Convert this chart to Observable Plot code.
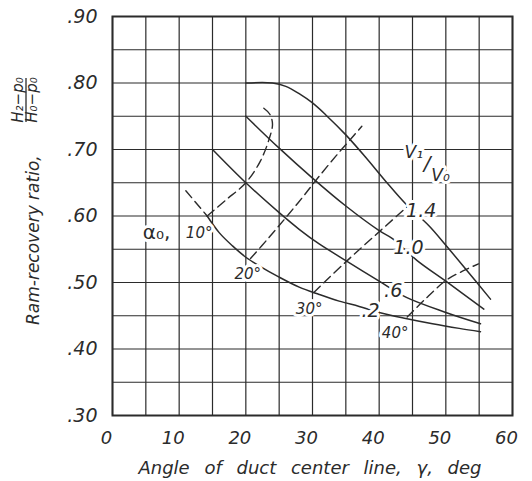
<!DOCTYPE html>
<html>
<head>
<meta charset="utf-8">
<script src="https://cdn.jsdelivr.net/npm/d3@7"></script>
<script src="https://cdn.jsdelivr.net/npm/@observablehq/plot@0.6"></script>
<style>
  html, body { margin: 0; padding: 0; background: #fff; }
  #chart { width: 532px; height: 481px; }
</style>
</head>
<body>
<div id="chart"></div>
<script>
// ---- tick labels / grid ----
const xTicks = [0, 10, 20, 30, 40, 50, 60];
const yTicks = [0.30, 0.40, 0.50, 0.60, 0.70, 0.80, 0.90];
const xGrid = [0, 5, 10, 15, 20, 25, 30, 35, 40, 45, 50, 55, 60];
const yGrid = [0.30, 0.35, 0.40, 0.45, 0.50, 0.55, 0.60, 0.65, 0.70, 0.75, 0.80, 0.85, 0.90];

// ---- solid curves: V1/V0 ----
const v14X = [20, 24, 26, 28, 30, 32, 35, 38, 41, 44, 47.5, 50, 53, 56.7];
const v14Y = [0.800, 0.800, 0.795, 0.784, 0.770, 0.752, 0.722, 0.688, 0.652, 0.618, 0.585, 0.556, 0.520, 0.475];
const v10X = [20, 25, 30, 35, 40, 42, 45.7, 50, 55.7];
const v10Y = [0.750, 0.702, 0.657, 0.615, 0.578, 0.566, 0.533, 0.502, 0.460];
const v06X = [15, 20, 25, 28, 31, 35, 40, 44, 50, 55.2];
const v06Y = [0.700, 0.650, 0.605, 0.580, 0.558, 0.533, 0.502, 0.478, 0.455, 0.438];
const v02X = [14.2, 16, 18, 20, 22, 25, 28, 31, 34, 37, 40, 44, 48, 52, 55.2];
const v02Y = [0.600, 0.575, 0.555, 0.538, 0.525, 0.508, 0.493, 0.482, 0.472, 0.464, 0.455, 0.446, 0.438, 0.431, 0.426];

// ---- dashed curves: alpha0 ----
const a10aX = [11, 14.2];
const a10aY = [0.638, 0.600];
const a10bX = [14.2, 17, 20, 22.2, 23.5, 24, 23.6, 22.7];
const a10bY = [0.600, 0.624, 0.650, 0.683, 0.716, 0.738, 0.753, 0.762];
const a20X = [20.7, 23.5, 26.2, 28.5, 30.7, 33.5, 36.2, 37.4];
const a20Y = [0.536, 0.568, 0.600, 0.628, 0.656, 0.690, 0.721, 0.735];
const a30X = [30.2, 35, 40.2, 45.2];
const a30Y = [0.485, 0.531, 0.578, 0.623];
const a40X = [44.2, 46.7, 50, 52.5, 54.9];
const a40Y = [0.448, 0.473, 0.503, 0.517, 0.528];

// ---- in-plot labels ----
const bigLabels = [".2", ".6", "1.0", "1.4"];
const bigLabelX = [38.7, 42.1, 44.4, 46.3];
const bigLabelY = [0.457, 0.487, 0.552, 0.608];
const degLabels = ["10°", "20°", "30°", "40°"];
const degLabelX = [13.0, 20.3, 29.5, 42.4];
const degLabelY = [0.574, 0.513, 0.460, 0.424];
const alphaLabel = ["α₀,"];
const alphaLabelX = [6.6];
const alphaLabelY = [0.575];
const velLabels = ["V₁", "/", "V₀"];
const velLabelX = [45.2, 47.2, 49.2];
const velLabelY = [0.6955, 0.679, 0.661];
const velLabelSize = [17, 20, 17];

const xTitle = "Angle of duct center line, γ, deg";
const yTitle = "Ram-recovery ratio,";
const yFracNum = "H₂−p₀";
const yFracDen = "H₀−p₀";

const pts = (xs, ys) => xs.map((x, i) => ({x, y: ys[i]}));
const ink = "#2b2b2b";
const font = "DejaVu Sans";

const solid = {x: "x", y: "y", stroke: ink, strokeWidth: 1.5, curve: "catmull-rom"};
const dashed = {x: "x", y: "y", stroke: ink, strokeWidth: 1.4, strokeDasharray: "9,5", curve: "catmull-rom"};

const halo = {stroke: "white", strokeWidth: 6, fill: ink, fontStyle: "italic"};

const plot = Plot.plot({
  width: 532,
  height: 481,
  marginLeft: 112,
  marginRight: 20,
  marginTop: 16,
  marginBottom: 66,
  style: {fontFamily: font, background: "white", color: ink},
  x: {domain: [0, 60], axis: null},
  y: {domain: [0.30, 0.90], axis: null},
  marks: [
    Plot.ruleX(xGrid, {stroke: ink, strokeWidth: 1.2}),
    Plot.ruleY(yGrid, {stroke: ink, strokeWidth: 1.2}),
    Plot.frame({stroke: ink, strokeWidth: 2}),
    Plot.line(pts(v14X, v14Y), solid),
    Plot.line(pts(v10X, v10Y), solid),
    Plot.line(pts(v06X, v06Y), solid),
    Plot.line(pts(v02X, v02Y), solid),
    Plot.line(pts(a10aX, a10aY), {...dashed, curve: "linear"}),
    Plot.line(pts(a10bX, a10bY), dashed),
    Plot.line(pts(a20X, a20Y), dashed),
    Plot.line(pts(a30X, a30Y), dashed),
    Plot.line(pts(a40X, a40Y), dashed),
    Plot.text(bigLabels, {x: (d, i) => bigLabelX[i], y: (d, i) => bigLabelY[i], text: d => d, fontSize: 19, ...halo}),
    Plot.text(degLabels, {x: (d, i) => degLabelX[i], y: (d, i) => degLabelY[i], text: d => d, fontSize: 15, ...halo}),
    Plot.text(alphaLabel, {x: (d, i) => alphaLabelX[i], y: (d, i) => alphaLabelY[i], text: d => d, fontSize: 20, ...halo, fontStyle: "normal"}),
    Plot.text(velLabels, {x: (d, i) => velLabelX[i], y: (d, i) => velLabelY[i], text: d => d, fontSize: (d, i) => velLabelSize[i], ...halo}),
    Plot.axisX(xTicks, {tickSize: 0, tickPadding: 16, fontSize: 18, fontStyle: "italic", dx: -6, tickFormat: d => String(d), label: null}),
    Plot.axisY(yTicks, {tickSize: 0, tickPadding: 15, fontSize: 19, fontStyle: "italic", tickFormat: d => d3.format(".2f")(d).replace(/^0/, ""), label: null})
  ]
});

document.getElementById("chart").appendChild(plot);

const svg = d3.select(plot);
svg.append("text")
  .attr("x", 310).attr("y", 474)
  .attr("text-anchor", "middle")
  .attr("font-family", font).attr("font-style", "italic").attr("font-size", 18)
  .attr("word-spacing", 9)
  .attr("fill", ink)
  .text(xTitle);

const g = svg.append("g").attr("transform", "translate(39,325) rotate(-90)")
  .attr("font-family", font).attr("font-style", "italic").attr("fill", ink);
g.append("text").attr("x", 0).attr("y", 0).attr("text-anchor", "start").attr("font-size", 17).text(yTitle);
g.append("text").attr("x", 225).attr("y", -16).attr("text-anchor", "middle").attr("font-size", 15).text(yFracNum);
g.append("text").attr("x", 225).attr("y", -2).attr("text-anchor", "middle").attr("font-size", 15).text(yFracDen);
g.append("line").attr("x1", 203).attr("x2", 247).attr("y1", -13).attr("y2", -13).attr("stroke", ink).attr("stroke-width", 1.3);
</script>
</body>
</html>
